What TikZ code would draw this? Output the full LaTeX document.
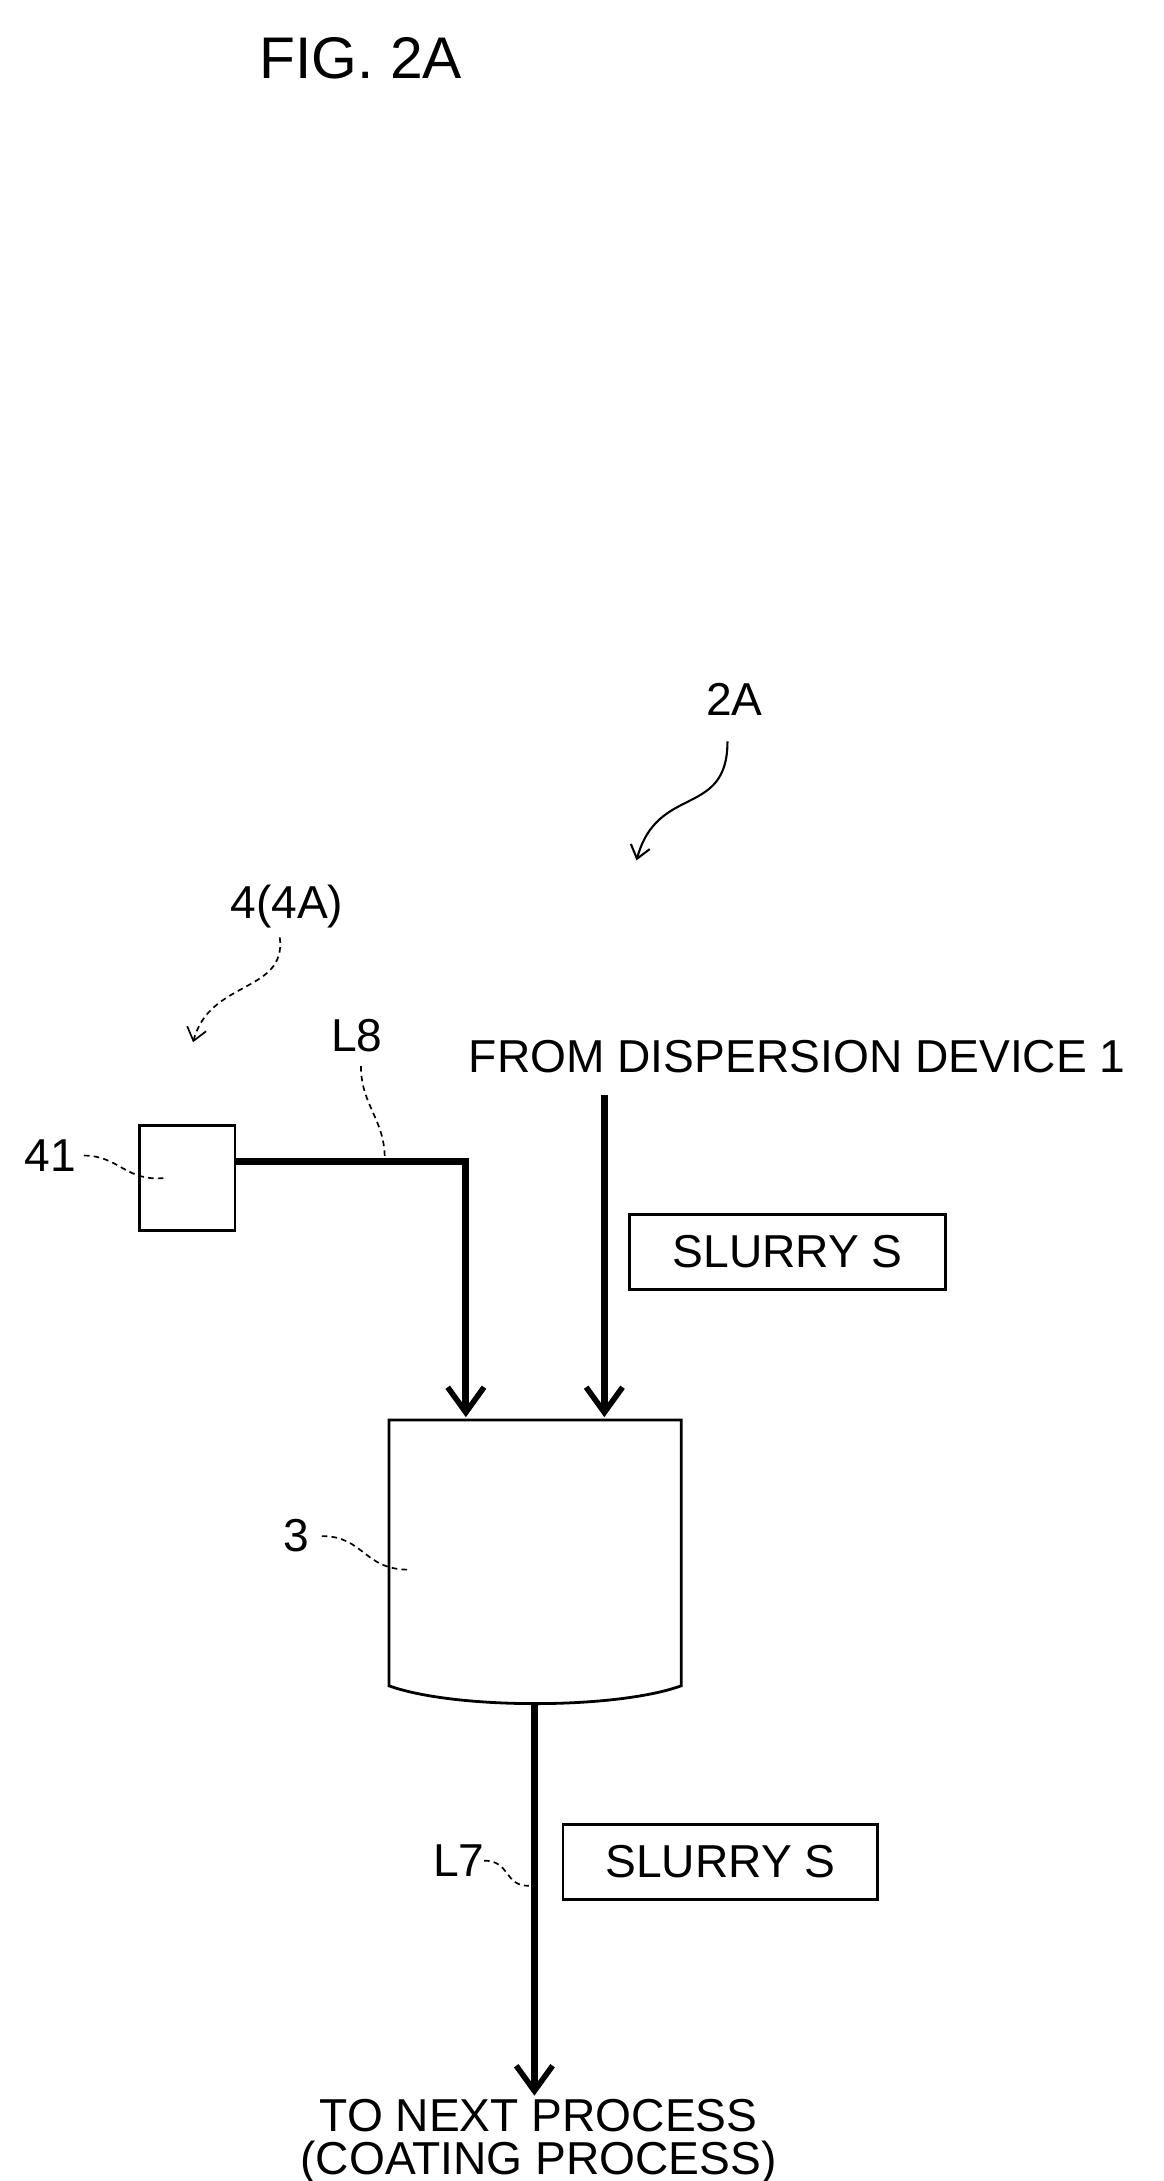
\documentclass[tikz,border=0pt]{standalone}
\usepackage{fontspec}
\setmainfont{Liberation Sans}
\usetikzlibrary{arrows.meta}
\begin{document}
\begin{tikzpicture}[x=1pt,y=-1pt,
  lbl/.style={font=\fontsize{33}{36}\selectfont, inner sep=0},
  flow/.style={line width=5pt,-{Straight Barb[length=18pt,width=26pt,line width=4pt]}},
  lead/.style={line width=1.2pt,dash pattern=on 4pt off 3pt},
  box/.style={draw,line width=2pt,inner sep=0}]
\useasboundingbox (0,0) rectangle (832,1559);
\node[font=\fontsize{42}{46}\selectfont] (fig) at (258,42) {FIG. 2A};
\node[lbl] (t2a) at (525,500) {2A};
\coordinate (a2) at (455,615);
\draw[line width=1.5pt,-{Straight Barb[length=9pt,width=14pt]}] (520,530) .. controls (520,585) and (470,560) .. (a2);
\node[lbl] (t4) at (205,648) {4(4A)};
\coordinate (a4) at (138,745);
\draw[lead,-{Straight Barb[length=9pt,width=14pt]}] (200,670) .. controls (205,710) and (150,700) .. (a4);
\node[box,minimum width=68,minimum height=75] (b41) at (134,842) {};
\node[lbl] (t41) at (36,826) {41};
\draw[lead] (60,826) .. controls (85,826) and (90,845) .. (118,842);
\coordinate (k8) at (333,830);
\coordinate (e8) at (333,1013);
\draw[line width=5pt] (b41.east|-k8) -- (335.5,830);
\draw[flow] (333,827.5) -- (e8);
\node[lbl] (tl8) at (255,740) {L8};
\draw[lead] (258,762) .. controls (258,790) and (275,800) .. (275,828);
\node[lbl,anchor=west] (from) at (335,755) {FROM DISPERSION DEVICE 1};
\draw[flow] (432,783) -- (432,1013);
\node[box,lbl,minimum width=226,minimum height=54] (s1) at (563,895) {SLURRY S};
\draw[line width=2pt] (278,1015) -- (487,1015) -- (487,1205) .. controls (440,1222) and (325,1222) .. (278,1205) -- cycle;
\node[lbl] (t3) at (212,1098) {3};
\draw[lead] (230,1098) .. controls (260,1098) and (260,1122) .. (292,1122);
\draw[flow] (382,1218) -- (382,1498);
\node[box,lbl,minimum width=225,minimum height=54] (s2) at (515,1331) {SLURRY S};
\node[lbl] (tl7) at (328,1330) {L7};
\draw[lead] (346,1330) .. controls (365,1330) and (360,1348) .. (378,1348);
\node[lbl] (n1) at (385,1512) {TO NEXT PROCESS};
\node[lbl] (n2) at (385,1546) {(COATING PROCESS)};
\end{tikzpicture}
\end{document}
